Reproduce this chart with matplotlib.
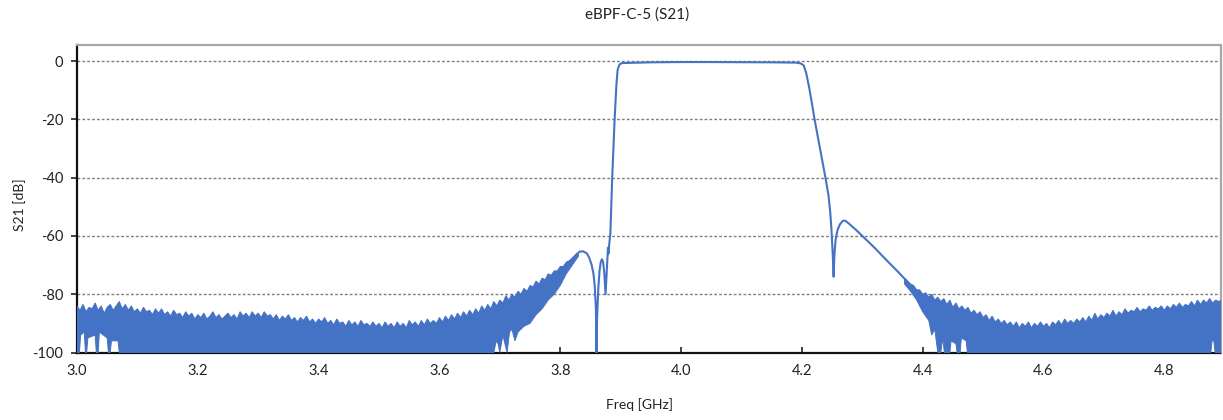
import matplotlib
matplotlib.use("Agg")
import matplotlib.pyplot as plt
import numpy as np

# ---------------- data ----------------
# Upper edge of the noisy low-side stop-band, sampled every 5 MHz from 3.000 GHz
low_start, low_step = 3.000, 0.005
low_upper = [
    -84.0, -85.5, -83.5, -86.0, -84.5, -85.0, -83.0, -85.5, -84.0, -86.5,   # 3.000
    -84.5, -83.5, -85.5, -84.0, -82.5, -85.0, -83.5, -85.5, -84.0, -86.0,   # 3.050
    -85.0, -86.5, -84.5, -86.0, -85.5, -87.0, -85.0, -86.5, -85.0, -87.0,   # 3.100
    -86.0, -87.5, -85.5, -87.0, -86.5, -88.0, -86.0, -87.5, -86.5, -88.5,   # 3.150
    -87.0, -88.0, -86.5, -88.5, -87.5, -86.0, -88.0, -87.0, -88.5, -87.5,   # 3.200
    -86.5, -88.0, -87.0, -88.5, -86.0, -87.5, -86.5, -88.0, -86.0, -87.5,   # 3.250
    -86.5, -88.0, -86.0, -87.5, -87.0, -88.5, -87.0, -89.0, -87.5, -88.5,   # 3.300
    -87.0, -89.0, -88.0, -89.5, -88.0, -89.0, -87.5, -89.5, -88.5, -90.0,   # 3.350
    -88.5, -89.5, -88.0, -90.0, -89.0, -90.5, -88.5, -90.0, -89.5, -91.0,   # 3.400
    -89.0, -90.5, -89.5, -91.0, -89.0, -90.5, -90.0, -91.0, -89.5, -91.0,   # 3.450
    -90.0, -91.5, -89.5, -91.0, -90.0, -91.5, -89.5, -91.0, -90.0, -91.5,   # 3.500
    -89.0, -90.5, -89.5, -91.0, -89.0, -90.5, -88.5, -90.0, -89.0, -90.0,   # 3.550
    -88.0, -89.5, -87.5, -89.0, -87.0, -88.5, -86.5, -88.0, -86.0, -87.5,   # 3.600
    -85.5, -87.0, -85.0, -86.5, -84.0, -85.5, -83.5, -85.0, -82.5, -84.0,   # 3.650
    -82.0, -83.0, -80.5, -82.0, -80.0, -81.0, -79.0, -80.0, -78.0, -79.0,   # 3.700
    -77.0, -77.5, -75.5, -76.5, -74.5, -75.0, -73.0, -73.5, -72.0, -72.0,   # 3.750
    -70.5, -70.5, -69.0, -68.5, -67.5, -66.8, -66.0,                        # 3.800
]
# Lower edge of the low-side noise band (frequency, dB)
low_lower_freq = [3.830, 3.820, 3.810, 3.800, 3.790, 3.780, 3.770, 3.760, 3.750, 3.740,
                  3.730, 3.725, 3.720, 3.716, 3.712, 3.705, 3.700, 3.697, 3.694, 3.690,
                  3.070, 3.068, 3.057, 3.055, 3.052, 3.050, 3.037, 3.035, 3.032, 3.030,
                  3.018, 3.016, 3.014, 3.012, 3.006, 3.004, 3.000]
low_lower_db = [-67, -70, -73, -77, -80, -82, -85, -87, -90, -91,
                -93, -96, -92, -93, -100, -94, -100, -97, -96, -100,
                -100, -96, -96, -100, -100, -95, -93, -100, -100, -94,
                -95, -100, -100, -93, -94, -100, -100]

# Clean part of the trace: skirt, notches, passband, upper skirt
trace_freq = [3.820, 3.826, 3.832, 3.838, 3.844, 3.848, 3.852, 3.855, 3.857, 3.859,
              3.860, 3.861, 3.863, 3.865, 3.867, 3.869, 3.871, 3.873, 3.875, 3.877,
              3.879, 3.880, 3.881, 3.883, 3.886, 3.890, 3.893, 3.895, 3.898, 3.902,
              3.950, 4.000, 4.050, 4.100, 4.150, 4.190, 4.198, 4.203, 4.207, 4.212,
              4.217, 4.221, 4.230, 4.239, 4.244, 4.247, 4.249, 4.251, 4.2525, 4.254,
              4.256, 4.259, 4.263, 4.268, 4.272, 4.278, 4.290, 4.300, 4.320, 4.340,
              4.360, 4.375]
trace_db = [-68.0, -66.5, -65.4, -65.3, -66.0, -67.5, -70, -73, -77, -85,
            -100, -88, -78, -72, -69, -68, -69, -73, -80, -72,
            -64, -66, -63, -59, -40, -20, -8, -3, -1.2, -0.7,
            -0.45, -0.35, -0.35, -0.4, -0.45, -0.55, -0.8, -1.5, -4, -9,
            -15, -20, -30, -40, -46, -52, -58, -66, -74, -66,
            -61, -58, -56, -54.8, -54.8, -55.8, -58, -60, -64, -68.3,
            -72.5, -75.8]

# Upper edge of the noisy high-side stop-band, sampled every 5 MHz from 4.370 GHz
high_start, high_step = 4.370, 0.005
high_upper = [
    -74.5, -75.5, -76.5, -77.0, -78.5, -78.5, -80.0, -79.5, -81.0, -80.0,   # 4.370
    -82.0, -81.0, -82.5, -81.5, -83.5, -82.0, -84.5, -83.0, -85.0, -84.0,   # 4.420
    -85.5, -84.5, -86.5, -85.5, -87.0, -86.0, -88.0, -87.0, -89.0, -87.5,   # 4.470
    -89.5, -88.5, -90.0, -89.0, -90.5, -89.5, -91.0, -89.5, -91.5, -90.0,   # 4.520
    -91.0, -89.5, -91.5, -90.0, -91.0, -89.5, -91.0, -90.0, -91.5, -89.5,   # 4.570
    -90.5, -89.0, -90.5, -88.5, -90.0, -89.0, -90.0, -88.5, -89.5, -88.0,   # 4.620
    -89.5, -87.5, -89.0, -86.5, -88.5, -87.0, -88.0, -86.5, -87.5, -85.5,   # 4.670
    -87.5, -86.0, -87.0, -85.0, -86.5, -85.5, -86.0, -84.5, -86.0, -85.0,   # 4.720
    -85.5, -84.0, -85.5, -84.5, -85.0, -84.0, -85.5, -84.0, -85.0, -83.5,   # 4.770
    -84.5, -83.0, -84.5, -83.5, -84.0, -82.5, -84.0, -82.0, -83.5, -82.0,   # 4.820
    -83.0, -81.5, -83.0, -82.0, -82.5, -82.0, -83.0,                        # 4.870
]
# Lower edge of the high-side noise band (frequency, dB)
high_lower_freq = [4.900, 4.884, 4.882, 4.879, 4.877, 4.474, 4.472, 4.464, 4.462, 4.457,
                   4.455, 4.447, 4.445, 4.436, 4.433, 4.430, 4.425, 4.420, 4.415, 4.410,
                   4.400, 4.390, 4.380, 4.370]
high_lower_db = [-100, -100, -96, -96, -100, -100, -96, -95, -100, -100,
                 -97, -96, -100, -100, -95, -100, -100, -92, -94, -89,
                 -86, -82, -79, -76.5]

x_ticks = [3.0, 3.2, 3.4, 3.6, 3.8, 4.0, 4.2, 4.4, 4.6, 4.8]
y_ticks = [0, -20, -40, -60, -80, -100]
title = "eBPF-C-5 (S21)"
x_label = "Freq [GHz]"
y_label = "S21 [dB]"

# ---------------- figure ----------------
plt.rcParams['font.family'] = ['Lato', 'DejaVu Sans']
blue = "#4472C4"

fig = plt.figure(figsize=(12.23, 4.20), dpi=100)
ax = fig.add_axes([77 / 1223, 1 - 352.5 / 420, (1220.5 - 77) / 1223, (352.5 - 45) / 420])

low_freq = low_start + low_step * np.arange(len(low_upper))
high_freq = high_start + high_step * np.arange(len(high_upper))

ax.fill(np.concatenate([low_freq, low_lower_freq]),
        np.concatenate([low_upper, low_lower_db]),
        facecolor=blue, edgecolor=blue, linewidth=0.7, zorder=3)
ax.fill(np.concatenate([high_freq, high_lower_freq]),
        np.concatenate([high_upper, high_lower_db]),
        facecolor=blue, edgecolor=blue, linewidth=0.7, zorder=3)
ax.plot(trace_freq, trace_db, color=blue, linewidth=1.5, zorder=4,
        solid_joinstyle='round')

ax.set_xlim(3.0, 4.893)
ax.set_ylim(-100, 5.5)
ax.set_xticks(x_ticks)
ax.set_xticklabels([f"{t:.1f}" for t in x_ticks])
ax.set_yticks(y_ticks)
ax.set_yticklabels([str(t) for t in y_ticks])

for yv in [0, -20, -40, -60, -80]:
    ax.axhline(yv, color="#7f7f7f", linewidth=1.0, linestyle=(0, (2.0, 1.5)), zorder=1)

ax.tick_params(axis='x', direction='in', length=4, width=1.2, labelsize=10.5,
               pad=8, colors='#222222')
ax.tick_params(axis='y', direction='out', length=4, width=1.2, labelsize=10.5,
               pad=6, colors='#222222')

for side in ['left', 'bottom']:
    ax.spines[side].set_color('#111111')
    ax.spines[side].set_linewidth(1.6)
for side in ['top', 'right']:
    ax.spines[side].set_color('#a6a6a6')
    ax.spines[side].set_linewidth(1.6)

fig.text(637 / 1223, 1 - 15 / 420, title, ha='center', va='center',
         fontsize=11, color='#222222')
fig.text(640 / 1223, 1 - 405 / 420, x_label, ha='center', va='center',
         fontsize=10, color='#222222')
fig.text(20 / 1223, 1 - 205 / 420, y_label, ha='center', va='center',
         rotation=90, fontsize=10, color='#222222')

fig.savefig("out.png", dpi=100)
